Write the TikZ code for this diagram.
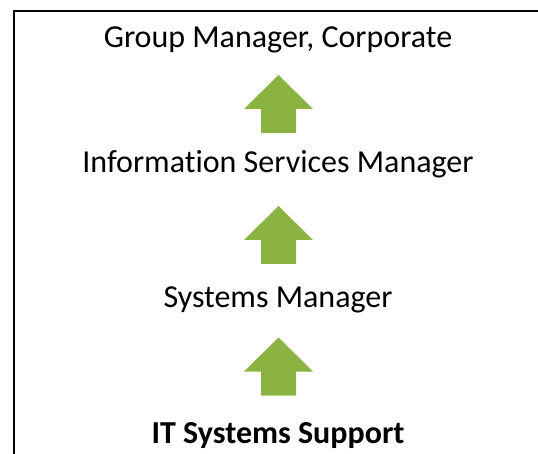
\documentclass[tikz,border=0pt]{standalone}
\usepackage{fontspec}
\setmainfont{Carlito}[Ligatures=NoCommon]
\definecolor{upgreen}{RGB}{139,179,65}
\tikzset{
  rung/.style={anchor=base,inner sep=0pt,font=\fontsize{32}{38}\selectfont},
  uparrow/.pic={\fill[upgreen] (-17.5,-29)--(17.5,-29)--(17.5,-5)--(34.5,-5)--(0,29)--(-34.5,-5)--(-17.5,-5)--cycle;}
}
\begin{document}
\begin{tikzpicture}[x=1pt,y=1pt]
  \useasboundingbox (0,0) rectangle (538,453);
  % frame, cut off at the right and bottom
  \draw[line width=2.6pt] (14,-10)--(14,442)--(560,442);
  \node[rung] (grp) at (278,405) {Group Manager, Corporate};
  \node[rung] (ism) at (278,280) {Information Services Manager};
  \node[rung] (sys) at (278,146) {Systems Manager};
  \node[rung,font=\fontsize{32}{38}\selectfont\bfseries] (its) at (278,10) {IT Systems Support};
  \pic at (278.5,349) {uparrow};
  \pic at (278.5,218) {uparrow};
  \pic at (278.5,86.5) {uparrow};
\end{tikzpicture}
\end{document}
